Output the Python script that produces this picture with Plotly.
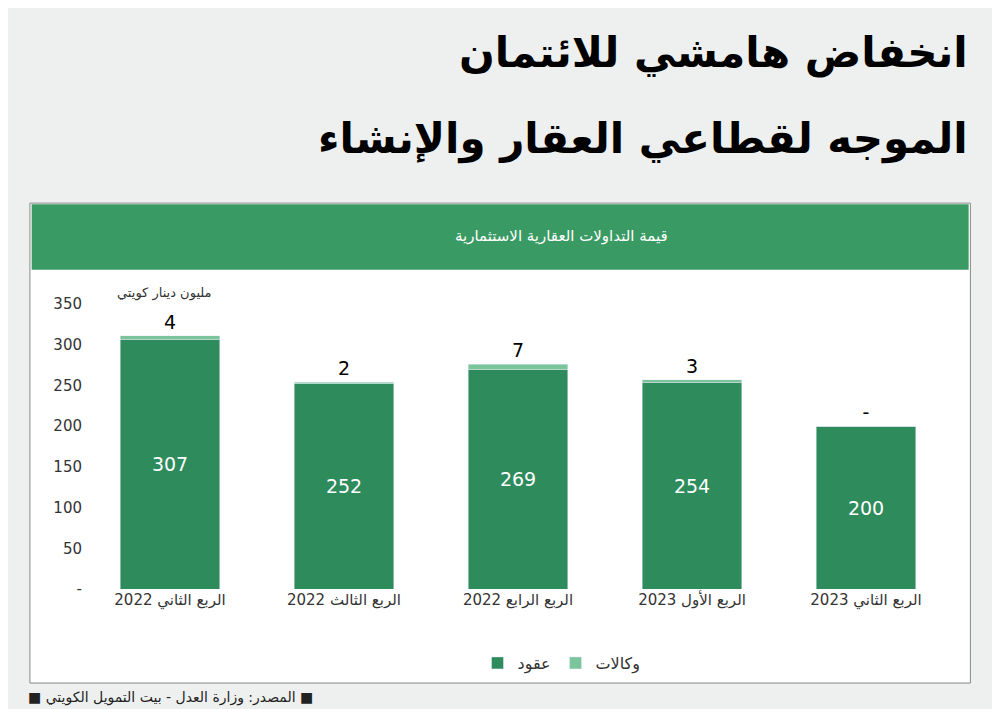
import plotly.graph_objects as go

categories = ["الربع الثاني 2022", "الربع الثالث 2022", "الربع الرابع 2022", "الربع الأول 2023", "الربع الثاني 2023"]
contracts = [307, 252, 269, 254, 200]
agencies = [4, 2, 7, 3, 0]
agency_labels = ["4", "2", "7", "3", "-"]
ytick_vals = [0, 50, 100, 150, 200, 250, 300, 350]
ytick_text = ["-", "50", "100", "150", "200", "250", "300", "350"]

dark = "#2e8b5c"
light = "#7cc49c"
font = "DejaVu Sans"

fig = go.Figure()
fig.add_bar(x=categories, y=contracts, name="عقود", marker_color=dark,
            text=[str(v) for v in contracts], textposition="inside", insidetextanchor="middle",
            textfont=dict(color="white", size=19, family=font))
fig.add_bar(x=categories, y=agencies, name="وكالات", marker_color=light,
            text=agency_labels, textposition="outside",
            textfont=dict(color="black", size=19, family=font), cliponaxis=False)

fig.update_layout(
    barmode="stack", bargap=0.43,
    width=1000, height=709,
    paper_bgcolor="#eef0f0", plot_bgcolor="white",
    margin=dict(l=75, r=55, t=296, b=128),
    font=dict(family=font, color="#333"),
    showlegend=True,
    legend=dict(orientation="h", x=0.55, xanchor="center", y=-0.2, yanchor="top",
                font=dict(size=16, color="#333"), bgcolor="rgba(0,0,0,0)", traceorder="normal"),
    xaxis=dict(showgrid=False, tickfont=dict(size=15, color="#333"), ticks="", showline=False),
    yaxis=dict(range=[0, 350], tickvals=ytick_vals, ticktext=ytick_text, showgrid=False,
               tickfont=dict(size=15, color="#333"), zeroline=False),
    shapes=[
        dict(type="rect", xref="paper", yref="paper", x0=-0.061, x1=1.02, y0=-0.33, y1=1.354,
             fillcolor="white", line=dict(color="#888", width=1), layer="below"),
        dict(type="rect", xref="paper", yref="paper", x0=-0.059, x1=1.018, y0=1.12, y1=1.35,
             fillcolor="#3a9a63", line=dict(width=0), layer="below"),
    ],
    annotations=[
        dict(text="<b>انخفاض هامشي للائتمان</b>", xref="paper", yref="paper", x=1.02, y=1.88,
             xanchor="right", yanchor="middle", showarrow=False, font=dict(size=42, color="black")),
        dict(text="<b>الموجه لقطاعي العقار والإنشاء</b>", xref="paper", yref="paper", x=1.02, y=1.58,
             xanchor="right", yanchor="middle", showarrow=False, font=dict(size=42, color="black")),
        dict(text="قيمة التداولات العقارية الاستثمارية", xref="paper", yref="paper", x=0.55, y=1.24,
             xanchor="center", yanchor="middle", showarrow=False, font=dict(size=15, color="white")),
        dict(text="مليون دينار كويتي", xref="paper", yref="paper", x=0.15, y=1.04,
             xanchor="right", yanchor="middle", showarrow=False, font=dict(size=13, color="#333")),
        dict(text="■ المصدر: وزارة العدل - بيت التمويل الكويتي ■", xref="paper", yref="paper", x=-0.065, y=-0.38,
             xanchor="left", yanchor="middle", showarrow=False, font=dict(size=14, color="#222")),
    ],
)
fig.write_html("out.html")
